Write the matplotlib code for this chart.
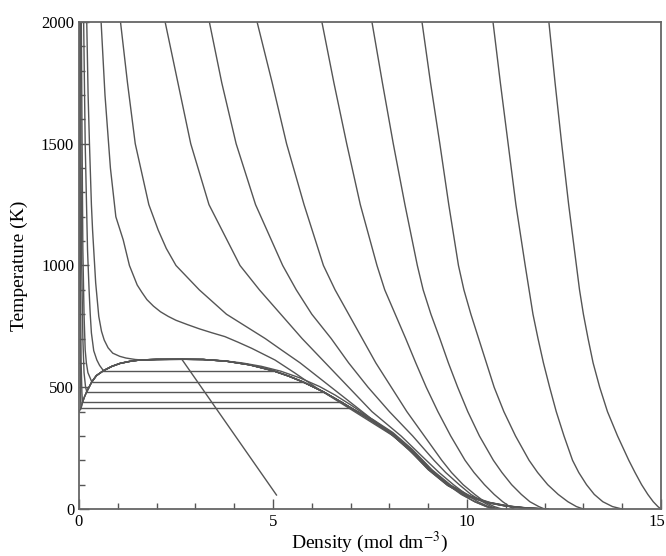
import numpy as np
import matplotlib
matplotlib.use("Agg")
import matplotlib.pyplot as plt
from matplotlib.transforms import ScaledTranslation

plt.rcParams['font.family'] = ['Liberation Serif', 'DejaVu Serif']
plt.rcParams['mathtext.fontset'] = 'stix'

# coexistence curve: vapour side -> critical point -> liquid side
dome_d = [0.0, 0.02, 0.05, 0.09, 0.14, 0.2, 0.33, 0.45, 0.63, 0.85, 1.06, 1.3, 1.57, 2.0, 2.65,
          3.2, 3.8, 4.4, 5.0, 5.4, 5.77, 6.29, 6.77, 7.03,
          7.5, 8.0, 8.5, 9.0, 9.5, 10.0, 10.5, 11.0, 11.5, 12.0]
dome_T = [398, 405, 413, 438, 460, 482, 522, 548, 568, 586, 598, 606, 612, 614.5, 615,
          614, 607, 592, 568, 546, 522, 482, 438, 413,
          366, 314, 245, 162, 97, 53, 27, 12, 4, 0]

# tie lines: temperature, vapour density, liquid density
tie_T = [413, 438, 482, 522, 568]
tie_vap = [0.05, 0.09, 0.2, 0.33, 0.63]
tie_liq = [7.03, 6.77, 6.29, 5.77, 5.0]

# vapour branches of the subcritical isobars, down to saturation
vap_d = [
    [0.01, 0.02, 0.033, 0.043, 0.05],
    [0.02, 0.035, 0.055, 0.075, 0.09],
    [0.04, 0.05, 0.07, 0.1, 0.13, 0.17, 0.2],
    [0.06, 0.08, 0.1, 0.13, 0.16, 0.19, 0.23, 0.33],
    [0.12, 0.16, 0.22, 0.26, 0.29, 0.32, 0.38, 0.46, 0.53, 0.63],
]
vap_T = [
    [2000, 1000, 600, 450, 413],
    [2000, 1000, 600, 480, 438],
    [2000, 1500, 1000, 700, 560, 500, 482],
    [2000, 1500, 1064, 800, 653, 600, 560, 522],
    [2000, 1500, 1064, 900, 800, 723, 650, 612, 590, 568],
]

# liquid branches of the subcritical isobars (offsets from the saturated liquid line)
liq_shift = [0.0, 0.02, 0.04, 0.06, 0.09]

# near-critical isobar
p6_d = [0.2, 0.235, 0.27, 0.32, 0.35, 0.38, 0.43, 0.51, 0.58, 0.65, 0.75, 0.87, 1.05, 1.21, 1.45, 1.72,
        2.2, 2.7, 3.2, 3.7, 4.2, 4.7, 5.2, 5.7, 6.2, 6.6, 7.0, 7.4, 7.8, 8.2, 8.6,
        9.0, 9.5, 10.0, 10.5, 11.0, 11.5, 12.1]
p6_T = [2000, 1700, 1500, 1250, 1146, 1064, 929, 791, 730, 694, 662, 640, 627, 620, 614, 611,
        613, 614.5, 614, 609, 600, 586, 566, 538, 503, 468, 428, 385, 340, 295, 240,
        168, 102, 57, 29, 13, 4.5, 0]

# supercritical isobars, sampled on a common temperature grid
sc_T = [2000, 1750, 1500, 1250, 1000, 900, 800, 700, 600, 500, 400, 300, 200, 150, 100, 60, 30, 10, 0]
sc_d = [
    [12.11, 12.27, 12.44, 12.62, 12.82, 12.9, 13.0, 13.12, 13.25, 13.42, 13.62, 13.88, 14.17, 14.33, 14.5, 14.66, 14.8, 14.92, 15.0],
    [10.67, 10.86, 11.06, 11.26, 11.5, 11.6, 11.7, 11.83, 11.97, 12.13, 12.3, 12.5, 12.72, 12.88, 13.08, 13.28, 13.5, 13.75, 14.0],
    [8.84, 9.06, 9.3, 9.53, 9.78, 9.92, 10.1, 10.3, 10.5, 10.7, 10.95, 11.25, 11.6, 11.82, 12.08, 12.35, 12.6, 12.82, 13.0],
    [7.55, 7.82, 8.1, 8.4, 8.72, 8.87, 9.07, 9.3, 9.52, 9.76, 10.02, 10.32, 10.68, 10.9, 11.15, 11.4, 11.62, 11.85, 12.0],
    [6.26, 6.57, 6.9, 7.25, 7.68, 7.88, 8.15, 8.42, 8.68, 8.95, 9.25, 9.58, 9.95, 10.18, 10.45, 10.7, 10.92, 11.1, 11.2],
    [4.59, 4.98, 5.35, 5.8, 6.3, 6.6, 6.95, 7.3, 7.65, 8.05, 8.45, 8.9, 9.35, 9.6, 9.9, 10.2, 10.45, 10.7, 10.9],
    [3.36, 3.68, 4.05, 4.55, 5.25, 5.6, 6.0, 6.5, 6.95, 7.45, 8.0, 8.6, 9.15, 9.45, 9.8, 10.1, 10.4, 10.62, 10.8],
    [2.22, 2.55, 2.88, 3.35, 4.15, 4.65, 5.2, 5.75, 6.35, 6.95, 7.55, 8.3, 8.95, 9.28, 9.65, 9.98, 10.28, 10.55, 10.75],
]

# supercritical isobars that bend sharply near the critical temperature
p8_d = [1.07, 1.25, 1.45, 1.8, 2.04, 2.25, 2.5, 2.8, 3.1, 3.45, 3.8, 4.3, 4.8, 5.22, 5.7, 6.1, 6.5, 6.9, 7.3,
        7.7, 8.1, 8.45, 8.8, 9.15, 9.52, 9.88, 10.2, 10.5, 10.7]
p8_T = [2000, 1750, 1500, 1250, 1146, 1070, 1000, 950, 900, 850, 800, 750, 700, 653, 600, 550, 500, 450, 400,
        350, 300, 250, 200, 150, 100, 60, 30, 10, 0]
p7_d = [0.57, 0.67, 0.81, 0.95, 1.14, 1.3, 1.4, 1.5, 1.62, 1.75, 1.92, 2.1, 2.3, 2.5, 2.8, 3.1, 3.42, 3.76, 4.1, 4.45, 4.75, 5.05,
        5.55, 6.1, 6.6, 7.1, 7.6, 8.1, 8.5, 8.85, 9.15, 9.5, 9.85, 10.2, 10.5, 10.7]
p7_T = [2000, 1700, 1400, 1200, 1105, 1000, 960, 920, 890, 860, 833, 810, 791, 775, 757, 740, 724, 708, 685, 660, 636, 612,
        560, 500, 450, 400, 350, 300, 250, 200, 150, 100, 60, 30, 10, 0]

# rectilinear diameter
diam_d = [2.65, 5.09]
diam_T = [615, 57.5]

line_kw = dict(color='#555555', lw=1.0)

fig = plt.figure(figsize=(6.66, 5.56), dpi=100)
ax = fig.add_axes([0.1186, 0.0845, 0.8739, 0.876])

ax.plot(dome_d, dome_T, **line_kw)
for T, dv, dl in zip(tie_T, tie_vap, tie_liq):
    ax.plot([dv, dl], [T, T], **line_kw)
for d, T in zip(vap_d, vap_T):
    ax.plot(d, T, **line_kw)
# liquid branches run from the tie line down along the saturated liquid line
i_start = [dome_T.index(t) for t in tie_T]
for k, i0 in enumerate(i_start):
    dl = np.array(dome_d[i0:]) + liq_shift[k] * np.array([0 if t > 400 else 1 for t in dome_T[i0:]])
    ax.plot(dl, dome_T[i0:], **line_kw)
ax.plot(p6_d, p6_T, **line_kw)
ax.plot(p7_d, p7_T, **line_kw)
ax.plot(p8_d, p8_T, **line_kw)
for d in sc_d:
    ax.plot(d, sc_T, **line_kw)
ax.plot(diam_d, diam_T, **line_kw)

ax.set_xlim(0, 15)
ax.set_ylim(0, 2000)
ax.set_xticks([0, 5, 10, 15])
ax.set_xticks(np.arange(0, 16, 1), minor=True)
ax.set_yticks([0, 500, 1000, 1500, 2000])
ax.set_yticks(np.arange(0, 2001, 100), minor=True)
ax.tick_params(which='both', direction='in', color='#555555', labelsize=12)
ax.tick_params(which='major', length=7, width=1)
ax.tick_params(which='minor', length=4, width=1)
for s in ax.spines.values():
    s.set_color('#666666')
    s.set_linewidth(1.3)

# keep the last x label inside the figure edge
last = ax.get_xticklabels()[-1]
last.set_transform(last.get_transform() + ScaledTranslation(-4 / 100, 0, fig.dpi_scale_trans))

ax.set_xlabel(r'Density (mol dm$^{-3}$)', fontsize=14, labelpad=0)
ax.set_ylabel('Temperature (K)', fontsize=14, labelpad=9)

fig.savefig('out.png', dpi=100)
